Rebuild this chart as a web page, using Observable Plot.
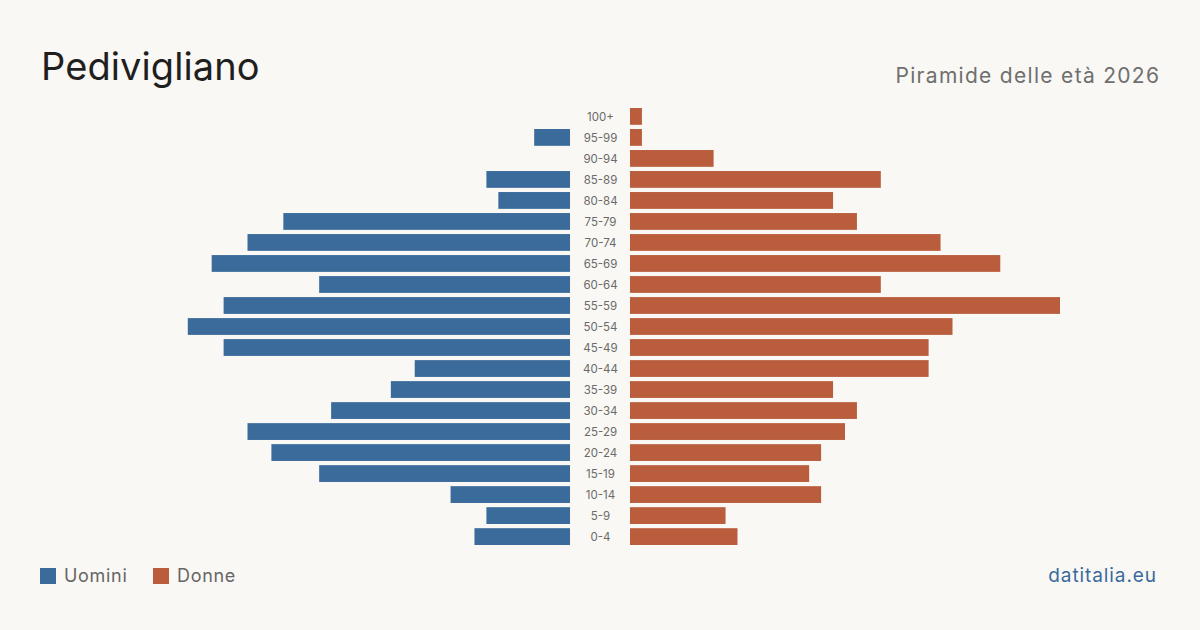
<!DOCTYPE html>
<html lang="it">
<head>
<meta charset="utf-8">
<title>Pedivigliano – Piramide delle età 2026</title>
<script src="https://cdn.jsdelivr.net/npm/d3@7"></script>
<script src="https://cdn.jsdelivr.net/npm/@observablehq/plot@0.6"></script>
<style>
  html, body { margin: 0; padding: 0; background: #f9f8f4; }
  body { width: 1200px; height: 630px; overflow: hidden; font-family: Inter, "Noto Sans", sans-serif; }
  .header { position: relative; height: 100px; }
  .title { position: absolute; left: 41px; top: 46.5px; font-size: 38px; line-height: 1; color: #1f1f1f; white-space: nowrap; letter-spacing: 0.1px; }
  .subtitle { position: absolute; right: 41px; top: 64.6px; font-size: 21px; line-height: 1; color: #6f6f6f; white-space: nowrap; letter-spacing: 1.3px; margin-right: -1.3px; }
  #chart svg { display: block; }
  .footer { position: relative; height: 70px; }
  .legend { position: absolute; left: 40px; top: 0; height: 40px; }
  .swatch { position: absolute; top: 7.7px; width: 16px; height: 16px; }
  .lab { position: absolute; top: 6.5px; font-size: 18px; line-height: 1; color: #666; white-space: nowrap; letter-spacing: 0.7px; }
  .source { position: absolute; right: 44px; top: 5.6px; font-size: 19px; line-height: 1; color: #3a6a9c; white-space: nowrap; letter-spacing: 0.9px; margin-right: -0.9px; }
</style>
</head>
<body>
<div class="header">
  <div class="title">Pedivigliano</div>
  <div class="subtitle">Piramide delle età 2026</div>
</div>
<div id="chart"></div>
<div class="footer">
  <div class="legend">
    <div class="swatch" style="left:0;background:#3b6b9b"></div>
    <div class="lab" style="left:24px">Uomini</div>
    <div class="swatch" style="left:113px;background:#b95d3d"></div>
    <div class="lab" style="left:137px">Donne</div>
  </div>
  <div class="source">datitalia.eu</div>
</div>
<script>
// Age classes, oldest first (top of the pyramid)
const ageClasses = ["100+", "95-99", "90-94", "85-89", "80-84", "75-79", "70-74", "65-69", "60-64",
  "55-59", "50-54", "45-49", "40-44", "35-39", "30-34", "25-29", "20-24", "15-19", "10-14", "5-9", "0-4"];
// Residents per age class
const men   = [0, 3, 0, 7, 6, 24, 27, 30, 21, 29, 32, 29, 13, 15, 20, 27, 25, 21, 10, 7, 8];
const women = [1, 1, 7, 21, 17, 19, 26, 31, 21, 36, 27, 25, 25, 17, 19, 18, 16, 15, 16, 8, 9];

const colorMen = "#3b6b9b";
const colorWomen = "#b95d3d";

// Half-width of the central column that holds the age labels, in data units
const gap = 2.51;
const maxValue = d3.max([...men, ...women]);

const rows = ageClasses.map((age, i) => ({age, men: men[i], women: women[i]}));

const chart = Plot.plot({
  width: 1200,
  height: 460,
  marginLeft: 140,
  marginRight: 140,
  marginTop: 5.9,
  marginBottom: 12.9,
  style: {background: "transparent", fontFamily: "Inter, 'Noto Sans', sans-serif"},
  x: {domain: [-(maxValue + gap), maxValue + gap], axis: null},
  y: {domain: ageClasses, axis: null, paddingInner: 0.2, paddingOuter: 0.1, round: false},
  marks: [
    Plot.barX(rows.filter(d => d.men > 0), {
      y: "age",
      x1: -gap,
      x2: d => -gap - d.men,
      fill: colorMen
    }),
    Plot.barX(rows.filter(d => d.women > 0), {
      y: "age",
      x1: gap,
      x2: d => gap + d.women,
      fill: colorWomen
    }),
    Plot.text(rows, {
      y: "age",
      x: 0,
      text: "age",
      fontSize: 11.5,
      fill: "#6a6a6a",
      textAnchor: "middle",
      style: "letter-spacing: 0.5px"
    })
  ]
});

document.getElementById("chart").appendChild(chart);
</script>
</body>
</html>
